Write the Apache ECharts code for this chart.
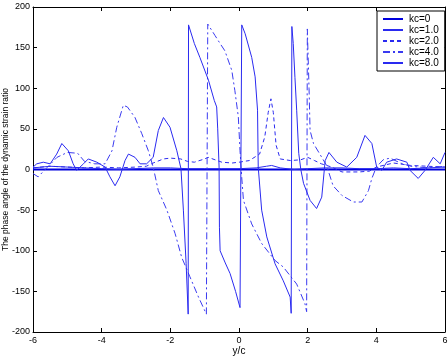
<!DOCTYPE html>
<html>
<head>
<meta charset="utf-8">
<script src="https://cdn.jsdelivr.net/npm/echarts@6/dist/echarts.min.js"></script>
<style>
  html, body { margin: 0; padding: 0; background: #fff; }
  #chart { width: 448px; height: 357px; }
</style>
</head>
<body>
<div id="chart"></div>
<script>
// values (y/c, phase angle in degrees)
var names = ['kc=0', 'kc=1.0', 'kc=2.0', 'kc=4.0', 'kc=8.0'];
var xTicks = [-6, -4, -2, 0, 2, 4, 6];

var kc0X = [-6, -3, 0, 3, 6];
var kc0Y = [0, 0, 0, 0, 0];

var kc1X = [-6, -5.5, -5, -4.5, -4, -3.5, -3, -2.5, -2, -1.5, -1, -0.5, 0, 0.5, 0.8, 0.95, 1.2, 1.6, 2, 2.5, 3, 3.5, 4, 4.5, 5, 5.5, 6];
var kc1Y = [2, 4, 3, 2, 1, 0, 1, 2, 2, 1, 1, 1, 1, 2, 4, 5, 2, 0, 1, 2, 2, 1, 1, 2, 1, 2, 3];

var kc2X = [-6, -5.5, -5, -4.5, -4, -3.5, -3, -2.7, -2.5, -2.2, -2, -1.7, -1.5, -1.3, -1, -0.9, -0.7, -0.5, -0.2, 0, 0.3, 0.6, 0.75, 0.85, 0.93, 1.0, 1.08, 1.2, 1.5, 1.8, 2.0, 2.2, 2.4, 2.7, 3, 3.5, 3.8, 4, 4.5, 5, 5.5, 6];
var kc2Y = [2, 4, 3, 2, 3, 2, 3, 4, 8, 13, 14, 13, 10, 9, 13, 15, 12, 9, 8, 9, 11, 19, 40, 70, 87, 70, 30, 13, 11, 12, 15, 11, 7, 3, -3, -3, -2, 3, 8, 5, 4, 3];

var kc4X = [-6, -5.85, -5.6, -5.3, -5.0, -4.7, -4.5, -4.2, -3.9, -3.7, -3.56, -3.37, -3.25, -3.03, -2.83, -2.64, -2.5, -2.35, -2.1, -1.86, -1.67, -1.43, -1.18, -0.95, -0.91, -0.7, -0.55, -0.41, -0.21, -0.12, -0.02, 0.03, 0.08, 0.13, 0.37, 0.66, 1.05, 1.29, 1.68, 1.92, 1.97, 1.99, 2.04, 2.07, 2.17, 2.41, 2.55, 2.74, 3.0, 3.33, 3.58, 3.77, 3.87, 4.0, 4.2, 4.4, 4.7, 5.0, 5.5, 6];
var kc4Y = [-5, -9, 2, 15, 21, 20, 10, 7, 7, 23, 52, 79, 77, 64, 44, 23, 3, -26, -50, -79, -108, -132, -157, -178, 179, 165, 155, 146, 122, 97, 65, 23, -10, -38, -67, -91, -112, -120, -141, -165, -175, 173, 100, 48, 32, 15, 5, -20, -32, -40, -40, -26, -11, 3, 12, 14, 8, 4, 2, 4];

var kc8X = [-6, -5.89, -5.7, -5.5, -5.31, -5.16, -4.97, -4.83, -4.73, -4.53, -4.39, -4.14, -3.9, -3.76, -3.61, -3.47, -3.32, -3.22, -3.03, -2.88, -2.69, -2.5, -2.35, -2.2, -2.01, -1.81, -1.69, -1.62, -1.54, -1.48, -1.47, -1.3, -1.14, -0.89, -0.72, -0.65, -0.62, -0.58, -0.57, -0.55, -0.4, -0.26, -0.1, 0.03, 0.08, 0.18, 0.37, 0.47, 0.54, 0.56, 0.66, 0.81, 1.05, 1.29, 1.49, 1.52, 1.54, 1.58, 1.63, 1.68, 1.74, 1.8, 1.88, 2.07, 2.26, 2.41, 2.51, 2.62, 2.85, 3.14, 3.43, 3.67, 3.87, 4.01, 4.16, 4.3, 4.59, 4.89, 4.98, 5.22, 5.42, 5.66, 5.86, 6];
var kc8Y = [3, 7, 9, 7, 19, 32, 23, 7, -1, 7, 13, 9, 3, -9, -20, -9, 11, 19, 15, 7, 7, 15, 48, 64, 52, 23, 1, -50, -116, -178, 178, 155, 138, 110, 85, 77, 50, 3, -71, -100, -115, -128, -150, -170, 178, 167, 138, 114, 73, 3, -50, -83, -116, -137, -157, -177, 176, 155, 113, 73, 20, 0, -17, -38, -48, -34, 11, 21, 9, 3, 15, 42, 32, 3, -1, 9, 13, 9, -1, -11, -1, 15, 7, 21];

function pairs(xs, ys) {
  var out = [];
  for (var i = 0; i < xs.length; i++) {
    out.push([xs[i], ys[i]]);
  }
  return out;
}

var chart = echarts.init(document.getElementById('chart'));

var axisBase = {
  type: 'value',
  nameMoveOverlap: false,
  axisLine: { show: true, onZero: false, lineStyle: { color: '#000', width: 1 } },
  axisTick: { show: true, inside: true, length: 4, lineStyle: { color: '#000' } },
  splitLine: { show: false }
};

function lineSeries(name, xs, ys, width, type, color) {
  return {
    name: name,
    type: 'line',
    data: pairs(xs, ys),
    symbol: 'none',
    smooth: false,
    animation: false,
    lineStyle: { color: color, width: width, type: type },
    itemStyle: { color: color },
    emphasis: { disabled: true }
  };
}

var option = {
  animation: false,
  textStyle: { fontFamily: 'Liberation Sans, Arial, sans-serif' },
  grid: { left: 33, right: 3, top: 7, bottom: 25, containLabel: false, outerBoundsMode: 'none' },
  legend: {
    data: names,
    orient: 'vertical',
    left: 377,
    top: 11,
    itemWidth: 20,
    itemHeight: 10,
    itemGap: 1,
    padding: [3, 6, 3, 5],
    backgroundColor: '#fff',
    borderColor: '#000',
    borderWidth: 1,
    itemStyle: { opacity: 0 },
    textStyle: { fontSize: 10, color: '#000', lineHeight: 10, padding: [0, 0, 0, 1] }
  },
  xAxis: [
    Object.assign({}, axisBase, {
      min: -6, max: 6, interval: 2,
      name: 'y/c', nameLocation: 'middle', nameGap: 14,
      nameTextStyle: { fontSize: 10, color: '#000' },
      axisLabel: { fontSize: 9, color: '#000', margin: 4 }
    }),
    Object.assign({}, axisBase, {
      position: 'top', min: -6, max: 6, interval: 2,
      axisLabel: { show: false }
    })
  ],
  yAxis: [
    Object.assign({}, axisBase, {
      min: -200, max: 200, interval: 50,
      name: 'The phase angle of the dynamic strain ratio',
      nameLocation: 'middle', nameGap: 23,
      nameTextStyle: { fontSize: 8.5, color: '#000' },
      axisLabel: { fontSize: 9, color: '#000', margin: 3 }
    }),
    Object.assign({}, axisBase, {
      position: 'right', min: -200, max: 200, interval: 50,
      axisLabel: { show: false }
    })
  ],
  series: [
    lineSeries(names[0], kc0X, kc0Y, 2, 'solid', '#0000dd'),
    lineSeries(names[1], kc1X, kc1Y, 1, 'solid', '#2a2af0'),
    lineSeries(names[2], kc2X, kc2Y, 1, [4, 3], '#2a2af0'),
    lineSeries(names[3], kc4X, kc4Y, 1, [7, 3, 2, 3], '#3a3af0'),
    lineSeries(names[4], kc8X, kc8Y, 1, 'solid', '#2a2af0')
  ]
};

chart.setOption(option);
</script>
</body>
</html>
